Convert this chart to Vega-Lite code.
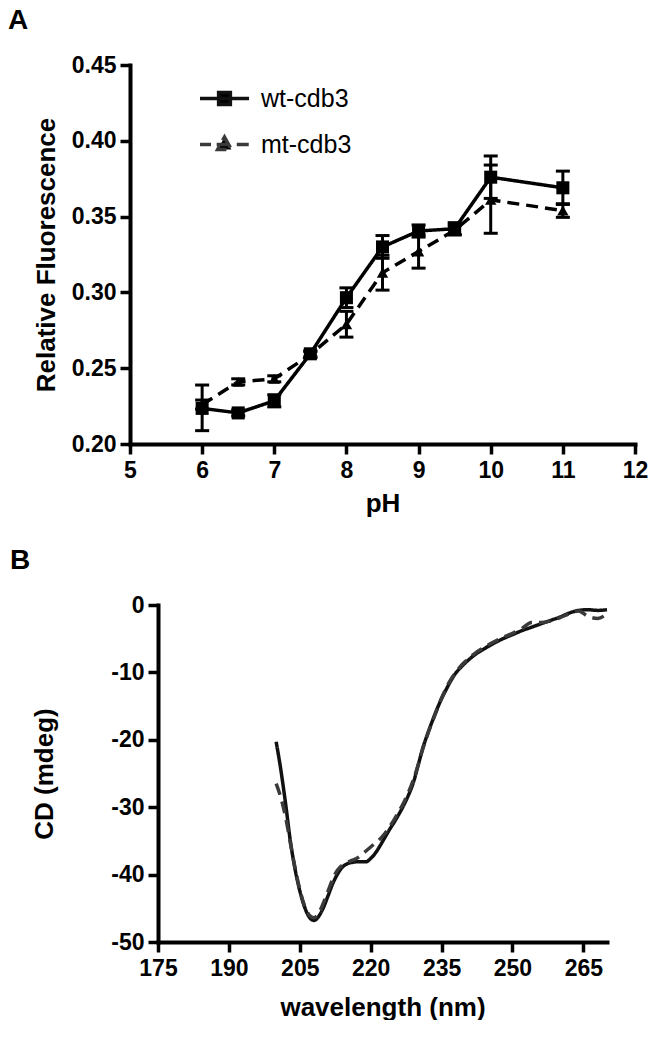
{
  "$schema": "https://vega.github.io/schema/vega-lite/v6.json",
  "background": "white",
  "padding": {"left": 8, "top": 7, "right": 0, "bottom": 0},
  "columns": 1,
  "bounds": "flush",
  "center": true,
  "spacing": 161,
  "datasets": {
    "ph": [
      {"pH": 6, "series": "wt-cdb3", "v": 0.2235, "lo": 0.2088, "hi": 0.2389},
      {"pH": 6.5, "series": "wt-cdb3", "v": 0.2205, "lo": 0.2185, "hi": 0.2225},
      {"pH": 7, "series": "wt-cdb3", "v": 0.2285, "lo": 0.2245, "hi": 0.2325},
      {"pH": 7.5, "series": "wt-cdb3", "v": 0.2595, "lo": 0.2575, "hi": 0.2615},
      {"pH": 8, "series": "wt-cdb3", "v": 0.2965, "lo": 0.29, "hi": 0.303},
      {"pH": 8.5, "series": "wt-cdb3", "v": 0.33, "lo": 0.3225, "hi": 0.3375},
      {"pH": 9, "series": "wt-cdb3", "v": 0.3405, "lo": 0.3365, "hi": 0.3445},
      {"pH": 9.5, "series": "wt-cdb3", "v": 0.342, "lo": 0.338, "hi": 0.346},
      {"pH": 10, "series": "wt-cdb3", "v": 0.376, "lo": 0.362, "hi": 0.39},
      {"pH": 11, "series": "wt-cdb3", "v": 0.369, "lo": 0.358, "hi": 0.38},
      {"pH": 6, "series": "mt-cdb3", "v": 0.226, "lo": 0.223, "hi": 0.229},
      {"pH": 6.5, "series": "mt-cdb3", "v": 0.241, "lo": 0.239, "hi": 0.243},
      {"pH": 7, "series": "mt-cdb3", "v": 0.243, "lo": 0.241, "hi": 0.245},
      {"pH": 7.5, "series": "mt-cdb3", "v": 0.259, "lo": 0.257, "hi": 0.261},
      {"pH": 8, "series": "mt-cdb3", "v": 0.279, "lo": 0.2705, "hi": 0.2875},
      {"pH": 8.5, "series": "mt-cdb3", "v": 0.313, "lo": 0.3015, "hi": 0.3245},
      {"pH": 9, "series": "mt-cdb3", "v": 0.327, "lo": 0.316, "hi": 0.338},
      {"pH": 9.5, "series": "mt-cdb3", "v": 0.341, "lo": 0.338, "hi": 0.344},
      {"pH": 10, "series": "mt-cdb3", "v": 0.361, "lo": 0.339, "hi": 0.384},
      {"pH": 11, "series": "mt-cdb3", "v": 0.354, "lo": 0.3495, "hi": 0.3585}
    ],
    "cd": [
      {"wl": 200, "cd": -20.3, "series": "wt-cdb3"}, {"wl": 201, "cd": -24.5, "series": "wt-cdb3"},
      {"wl": 202, "cd": -29.5, "series": "wt-cdb3"}, {"wl": 203, "cd": -35.0, "series": "wt-cdb3"},
      {"wl": 204, "cd": -39.2, "series": "wt-cdb3"}, {"wl": 205, "cd": -42.4, "series": "wt-cdb3"},
      {"wl": 206, "cd": -44.8, "series": "wt-cdb3"}, {"wl": 207, "cd": -46.3, "series": "wt-cdb3"},
      {"wl": 208, "cd": -46.8, "series": "wt-cdb3"}, {"wl": 209, "cd": -46.2, "series": "wt-cdb3"},
      {"wl": 210, "cd": -44.9, "series": "wt-cdb3"}, {"wl": 211, "cd": -43.1, "series": "wt-cdb3"},
      {"wl": 212, "cd": -41.3, "series": "wt-cdb3"}, {"wl": 213, "cd": -39.9, "series": "wt-cdb3"},
      {"wl": 214, "cd": -38.9, "series": "wt-cdb3"}, {"wl": 215, "cd": -38.4, "series": "wt-cdb3"},
      {"wl": 216, "cd": -38.2, "series": "wt-cdb3"}, {"wl": 217, "cd": -38.1, "series": "wt-cdb3"},
      {"wl": 218, "cd": -38.1, "series": "wt-cdb3"}, {"wl": 219, "cd": -38.1, "series": "wt-cdb3"},
      {"wl": 220, "cd": -37.6, "series": "wt-cdb3"}, {"wl": 221, "cd": -36.8, "series": "wt-cdb3"},
      {"wl": 222, "cd": -35.7, "series": "wt-cdb3"}, {"wl": 223, "cd": -34.5, "series": "wt-cdb3"},
      {"wl": 224, "cd": -33.3, "series": "wt-cdb3"}, {"wl": 225, "cd": -32.2, "series": "wt-cdb3"},
      {"wl": 226, "cd": -31.0, "series": "wt-cdb3"}, {"wl": 227, "cd": -29.7, "series": "wt-cdb3"},
      {"wl": 228, "cd": -28.2, "series": "wt-cdb3"}, {"wl": 229, "cd": -26.4, "series": "wt-cdb3"},
      {"wl": 230, "cd": -23.9, "series": "wt-cdb3"}, {"wl": 231, "cd": -21.3, "series": "wt-cdb3"},
      {"wl": 232, "cd": -19.2, "series": "wt-cdb3"}, {"wl": 233, "cd": -17.3, "series": "wt-cdb3"},
      {"wl": 234, "cd": -15.5, "series": "wt-cdb3"}, {"wl": 235, "cd": -13.9, "series": "wt-cdb3"},
      {"wl": 236, "cd": -12.5, "series": "wt-cdb3"}, {"wl": 237, "cd": -11.2, "series": "wt-cdb3"},
      {"wl": 238, "cd": -10.1, "series": "wt-cdb3"}, {"wl": 239, "cd": -9.3, "series": "wt-cdb3"},
      {"wl": 240, "cd": -8.6, "series": "wt-cdb3"}, {"wl": 242, "cd": -7.4, "series": "wt-cdb3"},
      {"wl": 244, "cd": -6.5, "series": "wt-cdb3"}, {"wl": 246, "cd": -5.7, "series": "wt-cdb3"},
      {"wl": 248, "cd": -5.0, "series": "wt-cdb3"}, {"wl": 250, "cd": -4.4, "series": "wt-cdb3"},
      {"wl": 252, "cd": -3.8, "series": "wt-cdb3"}, {"wl": 254, "cd": -3.3, "series": "wt-cdb3"},
      {"wl": 256, "cd": -2.8, "series": "wt-cdb3"}, {"wl": 258, "cd": -2.3, "series": "wt-cdb3"},
      {"wl": 260, "cd": -1.8, "series": "wt-cdb3"}, {"wl": 262, "cd": -1.2, "series": "wt-cdb3"},
      {"wl": 264, "cd": -0.8, "series": "wt-cdb3"}, {"wl": 266, "cd": -0.7, "series": "wt-cdb3"},
      {"wl": 268, "cd": -0.8, "series": "wt-cdb3"}, {"wl": 270, "cd": -0.7, "series": "wt-cdb3"},
      {"wl": 200, "cd": -26.5, "series": "mt-cdb3"}, {"wl": 201, "cd": -28.6, "series": "mt-cdb3"},
      {"wl": 202, "cd": -31.5, "series": "mt-cdb3"}, {"wl": 203, "cd": -35.3, "series": "mt-cdb3"},
      {"wl": 204, "cd": -39.0, "series": "mt-cdb3"}, {"wl": 205, "cd": -42.2, "series": "mt-cdb3"},
      {"wl": 206, "cd": -44.6, "series": "mt-cdb3"}, {"wl": 207, "cd": -46.0, "series": "mt-cdb3"},
      {"wl": 208, "cd": -46.4, "series": "mt-cdb3"}, {"wl": 209, "cd": -45.7, "series": "mt-cdb3"},
      {"wl": 210, "cd": -44.2, "series": "mt-cdb3"}, {"wl": 211, "cd": -42.4, "series": "mt-cdb3"},
      {"wl": 212, "cd": -40.6, "series": "mt-cdb3"}, {"wl": 213, "cd": -39.3, "series": "mt-cdb3"},
      {"wl": 214, "cd": -38.6, "series": "mt-cdb3"}, {"wl": 215, "cd": -38.2, "series": "mt-cdb3"},
      {"wl": 216, "cd": -37.9, "series": "mt-cdb3"}, {"wl": 217, "cd": -37.6, "series": "mt-cdb3"},
      {"wl": 218, "cd": -37.1, "series": "mt-cdb3"}, {"wl": 219, "cd": -36.5, "series": "mt-cdb3"},
      {"wl": 220, "cd": -35.9, "series": "mt-cdb3"}, {"wl": 221, "cd": -35.3, "series": "mt-cdb3"},
      {"wl": 222, "cd": -34.7, "series": "mt-cdb3"}, {"wl": 223, "cd": -33.9, "series": "mt-cdb3"},
      {"wl": 224, "cd": -32.9, "series": "mt-cdb3"}, {"wl": 225, "cd": -31.8, "series": "mt-cdb3"},
      {"wl": 226, "cd": -30.6, "series": "mt-cdb3"}, {"wl": 227, "cd": -29.3, "series": "mt-cdb3"},
      {"wl": 228, "cd": -27.8, "series": "mt-cdb3"}, {"wl": 229, "cd": -26.0, "series": "mt-cdb3"},
      {"wl": 230, "cd": -23.8, "series": "mt-cdb3"}, {"wl": 231, "cd": -21.4, "series": "mt-cdb3"},
      {"wl": 232, "cd": -19.3, "series": "mt-cdb3"}, {"wl": 233, "cd": -17.4, "series": "mt-cdb3"},
      {"wl": 234, "cd": -15.6, "series": "mt-cdb3"}, {"wl": 235, "cd": -13.8, "series": "mt-cdb3"},
      {"wl": 236, "cd": -12.3, "series": "mt-cdb3"}, {"wl": 237, "cd": -11.0, "series": "mt-cdb3"},
      {"wl": 238, "cd": -10.0, "series": "mt-cdb3"}, {"wl": 239, "cd": -9.1, "series": "mt-cdb3"},
      {"wl": 240, "cd": -8.4, "series": "mt-cdb3"}, {"wl": 242, "cd": -7.2, "series": "mt-cdb3"},
      {"wl": 244, "cd": -6.3, "series": "mt-cdb3"}, {"wl": 246, "cd": -5.5, "series": "mt-cdb3"},
      {"wl": 248, "cd": -4.8, "series": "mt-cdb3"}, {"wl": 250, "cd": -4.2, "series": "mt-cdb3"},
      {"wl": 252, "cd": -3.5, "series": "mt-cdb3"}, {"wl": 254, "cd": -2.6, "series": "mt-cdb3"},
      {"wl": 256, "cd": -2.6, "series": "mt-cdb3"}, {"wl": 258, "cd": -2.4, "series": "mt-cdb3"},
      {"wl": 260, "cd": -1.9, "series": "mt-cdb3"}, {"wl": 262, "cd": -1.3, "series": "mt-cdb3"},
      {"wl": 264, "cd": -0.9, "series": "mt-cdb3"}, {"wl": 266, "cd": -1.7, "series": "mt-cdb3"},
      {"wl": 268, "cd": -2.0, "series": "mt-cdb3"}, {"wl": 270, "cd": -1.3, "series": "mt-cdb3"}
    ]
  },
  "concat": [
    {
      "width": 505,
      "height": 379,
      "title": {"text": "A", "anchor": "start", "frame": "group", "dx": -122, "offset": 19},
      "data": {"name": "ph"},
      "encoding": {
        "x": {"field": "pH", "type": "quantitative", "scale": {"domain": [5, 12]},
              "axis": {"values": [5, 6, 7, 8, 9, 10, 11, 12], "title": "pH", "format": "d", "labelPadding": 5, "titlePadding": 8}}
      },
      "layer": [
        {
          "transform": [{"filter": "false"}],
          "mark": {"type": "point", "filled": true, "color": "black", "stroke": "black", "strokeWidth": 3.5},
          "encoding": {
            "y": {"field": "v", "type": "quantitative", "title": "Relative Fluorescence", "scale": {"domain": [0.2, 0.45], "zero": false}},
            "shape": {"field": "series", "type": "nominal",
              "scale": {"domain": ["wt-cdb3", "mt-cdb3"],
                        "range": ["M-1,0L1,0M-0.24,-0.24L0.24,-0.24L0.24,0.24L-0.24,0.24Z",
                                  "M-1,0L-0.55,0M-0.32,0L0.3,0M0.5,0L1,0M0,-0.3L0.28,0.2L-0.28,0.2Z"]},
              "legend": {"orient": "none", "legendX": 68, "legendY": 7, "title": null,
                         "symbolSize": 2400, "symbolStrokeWidth": 3.5, "symbolFillColor": "black",
                         "symbolStrokeColor": "black", "symbolOpacity": 1, "labelOffset": 10, "rowPadding": 6}}
          }
        },
        {
          "mark": {"type": "line", "color": "black", "strokeWidth": 3.5},
          "encoding": {
            "y": {"field": "v", "type": "quantitative", "title": "Relative Fluorescence",
                  "scale": {"domain": [0.2, 0.45], "zero": false},
                  "axis": {"values": [0.2, 0.25, 0.3, 0.35, 0.4, 0.45], "format": ".2f", "titlePadding": 12}},
            "strokeDash": {"field": "series", "type": "nominal",
              "scale": {"domain": ["wt-cdb3", "mt-cdb3"], "range": [[1, 0], [12, 7]]}, "legend": null}
          }
        },
        {
          "mark": {"type": "rule", "color": "black", "strokeWidth": 3},
          "encoding": {"y": {"field": "lo", "type": "quantitative", "title": "Relative Fluorescence", "scale": {"domain": [0.2, 0.45], "zero": false}}, "y2": {"field": "hi"}}
        },
        {
          "mark": {"type": "tick", "orient": "horizontal", "color": "black", "size": 14, "thickness": 3, "opacity": 1},
          "encoding": {"y": {"field": "lo", "type": "quantitative", "title": "Relative Fluorescence", "scale": {"domain": [0.2, 0.45], "zero": false}}}
        },
        {
          "mark": {"type": "tick", "orient": "horizontal", "color": "black", "size": 14, "thickness": 3, "opacity": 1},
          "encoding": {"y": {"field": "hi", "type": "quantitative", "title": "Relative Fluorescence", "scale": {"domain": [0.2, 0.45], "zero": false}}}
        },
        {
          "transform": [{"filter": "datum.series === 'wt-cdb3'"}],
          "mark": {"type": "point", "shape": "square", "filled": true, "color": "black", "size": 170, "opacity": 1},
          "encoding": {"y": {"field": "v", "type": "quantitative", "title": "Relative Fluorescence", "scale": {"domain": [0.2, 0.45], "zero": false}}}
        },
        {
          "transform": [{"filter": "datum.series === 'mt-cdb3'"}],
          "mark": {"type": "point", "shape": "triangle-up", "filled": true, "color": "black", "size": 130, "opacity": 1},
          "encoding": {"y": {"field": "v", "type": "quantitative", "title": "Relative Fluorescence", "scale": {"domain": [0.2, 0.45], "zero": false}}}
        }
      ]
    },
    {
      "width": 449,
      "height": 337,
      "title": {"text": "B", "anchor": "start", "frame": "group", "dx": -148, "offset": 19},
      "data": {"name": "cd"},
      "mark": {"type": "line", "strokeWidth": 3.5, "interpolate": "monotone"},
      "encoding": {
        "x": {"field": "wl", "type": "quantitative", "scale": {"domain": [175, 270]},
              "axis": {"values": [175, 190, 205, 220, 235, 250, 265], "title": "wavelength (nm)", "labelPadding": 5, "titlePadding": 14}},
        "y": {"field": "cd", "type": "quantitative", "scale": {"domain": [-50, 0]},
              "axis": {"values": [0, -10, -20, -30, -40, -50], "title": "CD (mdeg)", "titlePadding": 53,
                       "labelExpr": "datum.value < 0 ? '-' + abs(datum.value) : '' + datum.value"}},
        "color": {"field": "series", "type": "nominal",
          "scale": {"domain": ["wt-cdb3", "mt-cdb3"], "range": ["#111111", "#3a3a3a"]},
          "legend": {"orient": "none", "legendX": 36, "legendY": -6, "title": null, "symbolSize": 1764,
                     "symbolStrokeWidth": 3.5, "labelOffset": 11, "rowPadding": 0}},
        "strokeDash": {"field": "series", "type": "nominal",
          "scale": {"domain": ["wt-cdb3", "mt-cdb3"], "range": [[1, 0], [14, 7]]},
          "legend": {"orient": "none", "legendX": 36, "legendY": -6, "title": null, "symbolSize": 1764,
                     "symbolStrokeWidth": 3.5, "labelOffset": 11, "rowPadding": 0}}
      }
    }
  ],
  "config": {
    "font": "Liberation Sans",
    "view": {"stroke": null},
    "title": {"font": "Liberation Sans", "fontSize": 28, "fontWeight": "bold", "color": "black"},
    "axis": {
      "grid": false, "domainColor": "black", "domainWidth": 4, "domainCap": "square",
      "tickColor": "black", "tickWidth": 3.5, "tickSize": 10,
      "labelFont": "Liberation Sans", "labelFontSize": 23, "labelFontWeight": "bold", "labelColor": "black",
      "labelPadding": 4, "labelFlush": false, "labelOverlap": false,
      "titleFont": "Liberation Sans", "titleFontSize": 26, "titleFontWeight": "bold", "titleColor": "black"
    },
    "legend": {"labelFont": "Liberation Sans", "labelFontSize": 25, "labelColor": "black"}
  }
}
